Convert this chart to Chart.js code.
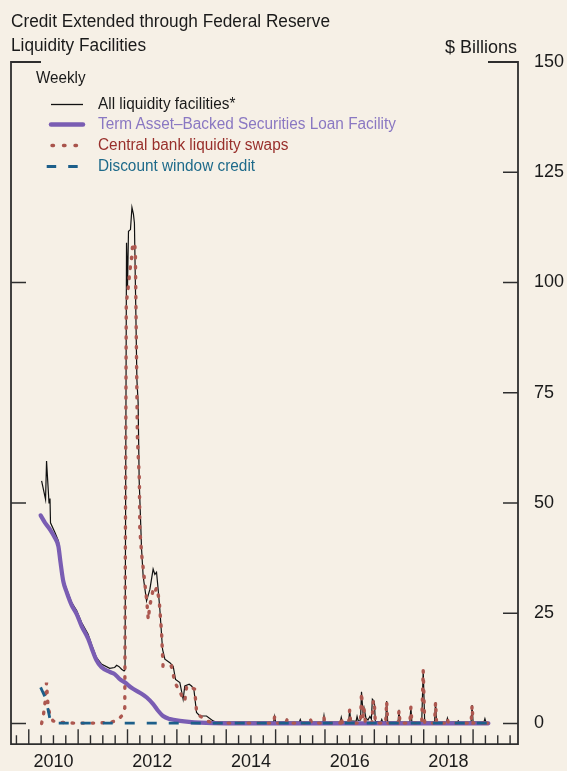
<!DOCTYPE html>
<html>
<head>
<meta charset="utf-8">
<script src="https://cdn.jsdelivr.net/npm/chart.js@4.4.1/dist/chart.umd.min.js"></script>
<style>
  html, body { margin: 0; padding: 0; background: #f6f0e6; }
  #wrap { position: relative; width: 567px; height: 771px; background: #f6f0e6;
          font-family: "Liberation Sans", Arial, sans-serif; color: #1a1a1a; overflow: hidden; }
  #wrap canvas { position: absolute; left: 0; top: 0; }
  .title { position: absolute; left: 11px; top: 8.5px; font-size: 17.5px; line-height: 24px; white-space: nowrap;
           transform: scaleX(0.985); transform-origin: left top; }
  .units { position: absolute; right: 50px; top: 35px; font-size: 18px; line-height: 24px; }
  .weekly { position: absolute; left: 36px; top: 67.5px; font-size: 16px; line-height: 20px;
            transform: scaleX(0.95); transform-origin: left top; }
  .lg { position: absolute; left: 46px; width: 420px; height: 20.5px; font-size: 16px; line-height: 20.5px; white-space: nowrap; }
  .lg svg { position: absolute; left: 0; top: 0; }
  .lg span { position: absolute; left: 52px; top: 0; transform: scaleX(0.96); transform-origin: left top; }
</style>
</head>
<body>
<div id="wrap">
  <canvas id="chart" width="567" height="771"></canvas>
  <div class="title">Credit Extended through Federal Reserve<br>Liquidity Facilities</div>
  <div class="units">$ Billions</div>
  <div class="weekly">Weekly</div>
  <div class="lg" style="top:94px">
    <svg width="44" height="21"><line x1="5" y1="10.5" x2="37" y2="10.5" stroke="#111" stroke-width="1.3"/></svg>
    <span style="color:#1a1a1a">All liquidity facilities*</span>
  </div>
  <div class="lg" style="top:113.8px">
    <svg width="44" height="21"><line x1="5" y1="10.5" x2="37" y2="10.5" stroke="#7a5db3" stroke-width="4.5" stroke-linecap="round"/></svg>
    <span style="color:#8a78c2">Term Asset–Backed Securities Loan Facility</span>
  </div>
  <div class="lg" style="top:134.8px">
    <svg width="44" height="21"><line x1="6" y1="10.5" x2="31" y2="10.5" stroke="#a9534b" stroke-width="3.4" stroke-linecap="round" stroke-dasharray="1.5 10"/></svg>
    <span style="color:#982f2b">Central bank liquidity swaps</span>
  </div>
  <div class="lg" style="top:155.5px">
    <svg width="44" height="21"><line x1="0.7" y1="10.5" x2="32.3" y2="10.5" stroke="#1d5f8a" stroke-width="3" stroke-dasharray="9.5 12"/></svg>
    <span style="color:#1e6a8a">Discount window credit</span>
  </div>
</div>
<script>
// ── Data (decimal year, $ billions) ──────────────────
const allFacilities = [
  [2010.26, 55], [2010.34, 50.8], [2010.36, 59.5], [2010.41, 50], [2010.43, 51], [2010.44, 45.5],
  [2010.53, 43.3], [2010.6, 41.4], [2010.64, 37.3], [2010.7, 32.6], [2010.77, 30.4], [2010.87, 27.4],
  [2010.97, 25.6], [2011.07, 22.9], [2011.2, 20.3], [2011.27, 18], [2011.37, 15], [2011.47, 13.5],
  [2011.64, 12.5], [2011.74, 12.7], [2011.78, 13.2], [2011.83, 12.9], [2011.88, 12.3], [2011.93, 11.9],
  [2011.95, 12.2], [2011.98, 109], [2012.0, 99], [2012.02, 111.6], [2012.06, 112], [2012.09, 117],
  [2012.12, 115.5], [2012.14, 113.5], [2012.19, 78], [2012.215, 72.8], [2012.236, 55.3], [2012.285, 39.5],
  [2012.317, 33.4], [2012.386, 27.8], [2012.453, 30.4], [2012.519, 35], [2012.554, 33.8], [2012.588, 34.3],
  [2012.621, 30.4], [2012.655, 25.9], [2012.71, 16.8], [2012.757, 14.6], [2012.858, 13.8], [2012.925, 13],
  [2012.973, 10], [2013.06, 9.3], [2013.127, 5.5], [2013.161, 8.5], [2013.249, 8.9], [2013.297, 8.5],
  [2013.344, 7.8], [2013.398, 2.5], [2013.465, 1.7], [2013.6, 1.7], [2013.735, 0.6], [2013.8, 0.3],
  [2014.96, 0.3], [2014.98, 1.6], [2015.0, 0.3], [2015.21, 0.3], [2015.23, 0.9], [2015.25, 0.3],
  [2015.48, 0.3], [2015.5, 0.9], [2015.52, 0.3], [2015.69, 0.3], [2015.71, 0.8], [2015.73, 0.3],
  [2015.96, 0.3], [2015.98, 1.8], [2016.0, 0.3], [2016.31, 0.3], [2016.33, 1.4], [2016.35, 0.4],
  [2016.48, 0.4], [2016.5, 3.1], [2016.52, 0.6], [2016.63, 0.5], [2016.65, 1.6], [2016.67, 0.7],
  [2016.72, 0.8], [2016.74, 7.2], [2016.77, 2.5], [2016.79, 3.6], [2016.83, 1.2], [2016.87, 0.8],
  [2016.91, 1.6], [2016.94, 1.0], [2016.96, 5.5], [2017.0, 5.0], [2017.02, 0.5], [2017.13, 0.3],
  [2017.15, 0.9], [2017.17, 0.3], [2017.23, 0.3], [2017.25, 5.1], [2017.27, 0.3], [2017.48, 0.3],
  [2017.5, 3.1], [2017.52, 0.3], [2017.72, 0.3], [2017.74, 3.8], [2017.76, 0.3], [2017.96, 0.3],
  [2017.99, 12.1], [2018.02, 0.3], [2018.22, 0.3], [2018.24, 4.9], [2018.26, 0.3], [2018.46, 0.3],
  [2018.48, 1.2], [2018.5, 0.3], [2018.68, 0.3], [2018.7, 0.6], [2018.72, 0.3], [2018.96, 0.3],
  [2018.98, 4.2], [2019.0, 0.3], [2019.22, 0.3], [2019.24, 1.1], [2019.26, 0.3], [2019.31, 0.2]
];

const talf = [
  [2010.24, 47.2], [2010.33, 45.5], [2010.43, 44.0], [2010.53, 42.1], [2010.6, 40.2], [2010.64, 36.8],
  [2010.7, 32.2], [2010.77, 29.7], [2010.87, 26.8], [2010.97, 24.8], [2011.07, 22.1], [2011.2, 19.3],
  [2011.27, 17.2], [2011.37, 14.4], [2011.47, 12.8], [2011.64, 11.7], [2011.74, 11.2], [2011.85, 10.0],
  [2011.95, 9.3], [2012.08, 8.1], [2012.25, 7.0], [2012.39, 5.9], [2012.52, 4.4], [2012.62, 2.9],
  [2012.72, 1.7], [2012.86, 1.0], [2013.06, 0.6], [2013.47, 0.2], [2014.0, 0.05], [2019.31, 0.05]
];

const cbSwaps = [
  [2010.26, 0], [2010.3, 2.2], [2010.33, 4.8], [2010.36, 9.3], [2010.38, 5.5], [2010.4, 3.2],
  [2010.44, 1.7], [2010.49, 0.6], [2010.6, 0.3], [2010.9, 0.1], [2011.4, 0.1], [2011.65, 0.3],
  [2011.78, 0.6], [2011.88, 1.7], [2011.93, 3.2], [2011.945, 3.5], [2011.975, 95.4], [2012.01, 98.4],
  [2012.05, 102.9], [2012.08, 105.2], [2012.09, 107], [2012.11, 109], [2012.15, 108.2], [2012.16, 105.9],
  [2012.2, 65.1], [2012.24, 55.3], [2012.25, 44], [2012.29, 38], [2012.33, 34], [2012.39, 27.8],
  [2012.42, 23.6], [2012.45, 26.6], [2012.52, 30.4], [2012.55, 29.7], [2012.59, 30.8], [2012.64, 28.2],
  [2012.69, 20.6], [2012.72, 13], [2012.79, 12.7], [2012.89, 13], [2012.96, 9.3], [2013.1, 6.3],
  [2013.16, 5.1], [2013.2, 8.5], [2013.3, 8.1], [2013.36, 7.8], [2013.4, 2.5], [2013.47, 1.7],
  [2013.6, 0.6], [2013.75, 0.1], [2014.96, 0.1], [2014.98, 1.5], [2015.0, 0.1], [2015.21, 0.1],
  [2015.23, 0.8], [2015.25, 0.1], [2015.69, 0.1], [2015.71, 0.8], [2015.73, 0.1], [2015.96, 0.1],
  [2015.98, 1.3], [2016.0, 0.1], [2016.31, 0.1], [2016.33, 1.4], [2016.35, 0.1], [2016.48, 0.1],
  [2016.5, 3.1], [2016.52, 0.1], [2016.72, 0.1], [2016.74, 7.0], [2016.77, 1.5], [2016.79, 3.5],
  [2016.82, 0.1], [2016.95, 0.1], [2016.98, 5.3], [2017.0, 4.6], [2017.02, 0.1], [2017.23, 0.1],
  [2017.25, 5.0], [2017.27, 0.1], [2017.48, 0.1], [2017.5, 3.0], [2017.52, 0.1], [2017.72, 0.1],
  [2017.74, 3.7], [2017.76, 0.1], [2017.96, 0.1], [2017.99, 12.0], [2018.02, 0.1], [2018.22, 0.1],
  [2018.24, 4.8], [2018.26, 0.1], [2018.46, 0.1], [2018.48, 1.1], [2018.5, 0.1], [2018.96, 0.1],
  [2018.98, 4.1], [2019.0, 0.1], [2019.22, 0.1], [2019.24, 1.0], [2019.26, 0.1], [2019.31, 0.1]
];

const discountWindow = [
  [2010.24, 8.2], [2010.33, 6.0], [2010.39, 3.2], [2010.43, 1.0], [2010.49, 0.1], [2019.31, 0.1]
];

const yearLabels   = ['2010', '2012', '2014', '2016', '2018'];
const yearLabelPos = [2010.5, 2012.5, 2014.5, 2016.5, 2018.5];
const rightTicks   = [0, 25, 50, 75, 100, 125, 150];
const leftTicks    = [0, 50, 100];

const toXY = arr => arr.map(([x, y]) => ({ x, y }));
const FONT = '"Liberation Sans", Arial, sans-serif';

// ── Frame, inner ticks and quarterly x ticks ─────────
const frame = {
  id: 'frame',
  afterDatasetsDraw(chart) {
    const { ctx, chartArea: a, scales: { x, y } } = chart;
    ctx.save();
    ctx.strokeStyle = '#2e2e2e';
    ctx.lineWidth = 1.8;
    ctx.beginPath();
    ctx.moveTo(a.left + 30, a.top); ctx.lineTo(a.left, a.top); ctx.lineTo(a.left, a.bottom);
    ctx.lineTo(a.right, a.bottom); ctx.lineTo(a.right, a.top); ctx.lineTo(a.right - 30, a.top);
    ctx.stroke();

    ctx.lineWidth = 1.4;
    ctx.beginPath();
    leftTicks.forEach(v => {
      const py = y.getPixelForValue(v);
      ctx.moveTo(a.left, py); ctx.lineTo(a.left + 15, py);
    });
    rightTicks.slice(0, -1).forEach(v => {
      const py = y.getPixelForValue(v);
      ctx.moveTo(a.right, py); ctx.lineTo(a.right - 15, py);
    });
    for (let q = 2009.75; q <= 2019.8; q += 0.25) {
      const px = x.getPixelForValue(q);
      const major = Math.abs(q - Math.round(q)) < 0.01;
      ctx.moveTo(px, a.bottom); ctx.lineTo(px, a.bottom - (major ? 15 : 9));
    }
    ctx.stroke();
    ctx.restore();
  }
};

new Chart(document.getElementById('chart'), {
  type: 'line',
  data: {
    datasets: [
      { data: toXY(allFacilities), borderColor: '#111', borderWidth: 1.2, order: 3 },
      { data: toXY(talf), borderColor: '#7a5db3', borderWidth: 4.2, borderCapStyle: 'round', borderJoinStyle: 'round',
        cubicInterpolationMode: 'monotone', order: 2 },
      { data: toXY(cbSwaps), borderColor: '#ad5850', borderWidth: 3.4, borderDash: [1.5, 8.5], borderCapStyle: 'round', order: 1 },
      { data: toXY(discountWindow), borderColor: '#1d5f8a', borderWidth: 2.8, borderDash: [10, 12], order: 0 }
    ]
  },
  options: {
    responsive: false,
    animation: false,
    events: [],
    layout: { padding: { left: 11, top: 62, right: 0, bottom: 0 } },
    elements: { point: { radius: 0 }, line: { tension: 0, fill: false } },
    plugins: { legend: { display: false }, tooltip: { enabled: false } },
    scales: {
      x: {
        type: 'linear', min: 2009.64, max: 2019.91,
        afterBuildTicks: s => { s.ticks = yearLabelPos.map(v => ({ value: v })); },
        afterFit: s => { s.height = 26; },
        grid: { display: false, drawTicks: false }, border: { display: false },
        ticks: { padding: 7, autoSkip: false, maxRotation: 0, color: '#1a1a1a',
                 font: { family: FONT, size: 18 }, callback: (v, i) => yearLabels[i] }
      },
      y: {
        type: 'linear', position: 'right', min: -4.69, max: 150,
        afterBuildTicks: s => { s.ticks = rightTicks.map(v => ({ value: v })); },
        afterFit: s => { s.width = 49; },
        grid: { display: false, drawTicks: false }, border: { display: false },
        ticks: { padding: 16, color: '#1a1a1a', font: { family: FONT, size: 18 } }
      }
    }
  },
  plugins: [frame]
});
</script>
</body>
</html>
